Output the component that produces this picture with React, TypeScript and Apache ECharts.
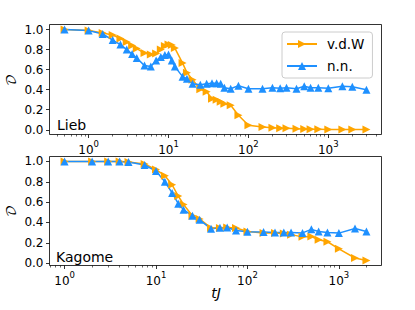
import React, { useEffect, useRef } from 'react';
import * as echarts from 'echarts';

// ---- data ----
const liebT = [0.5, 1, 1.5, 2, 2.5, 3, 3.5, 4, 5, 6, 7, 8, 9, 10, 11, 12, 15, 17, 20, 25, 30, 35, 40, 45, 50, 60, 75, 100, 150, 200, 250, 300, 400, 500, 600, 750, 1000, 1500, 2000, 3000];
const liebVdW = [1.0, 0.99, 0.965, 0.945, 0.91, 0.875, 0.84, 0.81, 0.765, 0.75, 0.76, 0.8, 0.835, 0.85, 0.845, 0.815, 0.665, 0.57, 0.5, 0.405, 0.38, 0.31, 0.3, 0.28, 0.26, 0.245, 0.145, 0.045, 0.027, 0.02, 0.015, 0.015, 0.01, 0.008, 0.006, 0.005, 0.004, 0.003, 0.003, 0.003];
const liebNN = [1.0, 0.99, 0.955, 0.895, 0.85, 0.8, 0.755, 0.715, 0.64, 0.63, 0.69, 0.725, 0.745, 0.75, 0.69, 0.63, 0.53, 0.51, 0.46, 0.45, 0.46, 0.465, 0.465, 0.46, 0.42, 0.41, 0.44, 0.41, 0.41, 0.42, 0.415, 0.42, 0.41, 0.435, 0.42, 0.42, 0.415, 0.435, 0.43, 0.4];

const kagT = [1, 2, 3, 4, 5, 7.5, 10, 12.5, 15, 17.5, 20, 25, 30, 40, 50, 60, 75, 100, 150, 200, 250, 300, 400, 500, 600, 750, 1000, 1500, 2000];
const kagVdW = [1, 1, 1, 1, 0.995, 0.975, 0.92, 0.86, 0.77, 0.66, 0.577, 0.465, 0.435, 0.345, 0.345, 0.35, 0.345, 0.31, 0.297, 0.297, 0.29, 0.28, 0.258, 0.262, 0.23, 0.21, 0.14, 0.05, 0.025];
const kagNN = [1, 1, 1, 1, 0.995, 0.965, 0.905, 0.8, 0.69, 0.585, 0.525, 0.465, 0.426, 0.337, 0.347, 0.35, 0.32, 0.308, 0.305, 0.3, 0.3, 0.3, 0.297, 0.332, 0.31, 0.3, 0.295, 0.34, 0.31];

const yTicks = [0, 0.2, 0.4, 0.6, 0.8, 1.0];
const xMajor = [0, 1, 2, 3];
const seriesNames = ['v.d.W', 'n.n.'];
const panelNames = ['Lieb', 'Kagome'];

const ORANGE = '#FFA500';
const BLUE = '#1E90FF';
const FONT = 'DejaVu Sans';

function range(vals: number[]) {
  const lo = Math.min(...vals);
  const hi = Math.max(...vals);
  const pad = 0.05 * (hi - lo);
  return [lo - pad, hi + pad];
}

function minorTicks(lo: number, hi: number) {
  const out: number[] = [];
  for (let k = Math.floor(lo); k <= Math.ceil(hi); k++) {
    for (let m = 2; m <= 9; m++) {
      const v = k + Math.log10(m);
      if (v > lo && v < hi) out.push(v);
    }
  }
  return out;
}

export default function App() {
  const ref = useRef<HTMLDivElement>(null);
  useEffect(() => {
    document.body.style.margin = '0';
    const chart = echarts.init(ref.current!, null, { renderer: 'svg' });

    const panels = [
      { t: liebT, a: liebVdW, b: liebNN, grid: { left: 49.5, top: 24.5, width: 332, height: 110 } },
      { t: kagT, a: kagVdW, b: kagNN, grid: { left: 49.5, top: 156.5, width: 332, height: 109 } },
    ];

    const grids: any[] = [];
    const xAxes: any[] = [];
    const yAxes: any[] = [];
    const series: any[] = [];

    panels.forEach((p, i) => {
      grids.push({ ...p.grid, show: true, borderColor: '#000', borderWidth: 0.8, backgroundColor: '#fff' });
      const [xlo, xhi] = range(p.t.map((t) => Math.log10(t)));
      const [ylo, yhi] = range([...p.a, ...p.b]);
      xAxes.push({
        type: 'value', gridIndex: i, min: xlo, max: xhi, position: 'bottom',
        axisLine: { show: false, onZero: false },
        splitLine: { show: false },
        axisTick: { show: true, customValues: xMajor, length: 3.5, lineStyle: { color: '#000', width: 0.8 } },
        axisLabel: {
          customValues: xMajor, margin: 5, color: '#000', fontFamily: FONT, fontSize: 12,
          formatter: (v: number) => '{b|10}{s|' + Math.round(v) + '}',
          rich: {
            b: { fontSize: 12, fontFamily: FONT, color: '#000', lineHeight: 16, verticalAlign: 'bottom' },
            s: { fontSize: 8.5, fontFamily: FONT, color: '#000', lineHeight: 16, verticalAlign: 'top' },
          },
        },
      });
      xAxes.push({
        type: 'value', gridIndex: i, min: xlo, max: xhi, position: 'bottom',
        axisLine: { show: false, onZero: false },
        splitLine: { show: false },
        axisLabel: { show: false },
        axisTick: { show: true, customValues: minorTicks(xlo, xhi), length: 2, lineStyle: { color: '#000', width: 0.6 } },
      });
      yAxes.push({
        type: 'value', gridIndex: i, min: ylo, max: yhi, position: 'left',
        axisLine: { show: false, onZero: false },
        splitLine: { show: false },
        axisTick: { show: true, customValues: yTicks, length: 3.5, lineStyle: { color: '#000', width: 0.8 } },
        axisLabel: {
          customValues: yTicks, margin: 6, color: '#000', fontFamily: FONT, fontSize: 12,
          formatter: (v: number) => v.toFixed(1),
        },
      });
      const mk = (name: string, vals: number[], color: string, rot: number) => ({
        name, type: 'line', xAxisIndex: i * 2, yAxisIndex: i,
        data: p.t.map((t, j) => [Math.log10(t), vals[j]]),
        symbol: 'triangle', symbolSize: 8, symbolRotate: rot, showAllSymbol: true,
        lineStyle: { color, width: 1.5 }, itemStyle: { color },
        emphasis: { disabled: true },
      });
      series.push(mk(seriesNames[0], p.a, ORANGE, -90));
      series.push(mk(seriesNames[1], p.b, BLUE, 0));
    });

    chart.setOption({
      animation: false,
      grid: grids,
      xAxis: xAxes,
      yAxis: yAxes,
      series,
      legend: {
        data: seriesNames, orient: 'vertical', left: 282, top: 32,
        backgroundColor: 'rgba(255,255,255,0.8)', borderColor: '#ccc', borderWidth: 1, borderRadius: 3,
        padding: [5, 8, 5, 4], itemWidth: 30, itemHeight: 10, itemGap: 8,
        textStyle: { fontFamily: FONT, fontSize: 13.5, color: '#000', lineHeight: 14, padding: [0, 0, 0, 5] },
      },
      graphic: [
        { type: 'text', x: 57, y: 125, style: { text: panelNames[0], fontFamily: FONT, fontSize: 14, fill: '#000', textVerticalAlign: 'middle' } },
        { type: 'text', x: 56, y: 256.5, style: { text: panelNames[1], fontFamily: FONT, fontSize: 14, fill: '#000', textVerticalAlign: 'middle' } },
        { type: 'text', x: 12, y: 80, rotation: Math.PI / 2, style: { text: '𝒟', fontFamily: 'DejaVu Math TeX Gyre, DejaVu Sans, Noto Sans', fontSize: 13, fill: '#000', textAlign: 'center', textVerticalAlign: 'middle' } },
        { type: 'text', x: 12, y: 211, rotation: Math.PI / 2, style: { text: '𝒟', fontFamily: 'DejaVu Math TeX Gyre, DejaVu Sans, Noto Sans', fontSize: 13, fill: '#000', textAlign: 'center', textVerticalAlign: 'middle' } },
        { type: 'text', x: 216, y: 293, style: { text: 'tJ', fontFamily: FONT, fontStyle: 'italic', fontSize: 14, fill: '#000', textAlign: 'center', textVerticalAlign: 'middle' } },
      ],
    });
    return () => chart.dispose();
  }, []);
  return <div ref={ref} style={{ width: 415, height: 310 }} />;
}
